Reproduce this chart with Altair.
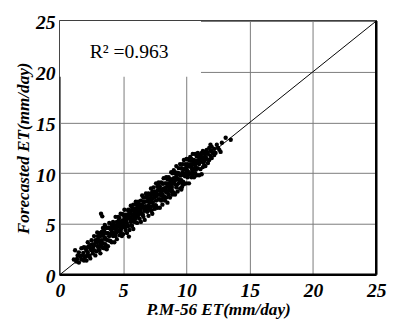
import altair as alt
import pandas as pd

# ---- data (P.M-56 ET vs forecasted ET, mm/day) ----
pm56_a = [1.1, 1.2, 1.3, 1.4, 1.5, 1.5, 1.6, 1.7, 1.7, 1.8,
          1.9, 1.9, 2.0, 2.0, 2.1, 2.1, 2.2, 2.2, 2.3, 2.3,
          2.4, 2.4, 2.5, 2.5, 2.6, 2.6, 2.7, 2.7, 2.8, 2.8,
          2.9, 2.9, 3.0, 3.0, 1.35, 1.85, 2.15, 2.45, 2.65, 2.95]
fc_a = [1.5, 2.4, 1.3, 1.9, 1.2, 2.2, 1.8, 1.5, 2.6, 1.9,
        1.4, 2.7, 1.8, 2.6, 2.4, 1.4, 2.2, 3.2, 1.9, 2.8,
        2.6, 1.6, 3.4, 2.4, 3.0, 2.1, 3.8, 2.4, 3.4, 1.9,
        3.2, 2.3, 3.8, 2.8, 1.55, 2.15, 1.85, 2.95, 2.75, 4.15]

pm56_b = [3.1, 3.1, 3.1, 3.2, 3.2, 3.2, 3.3, 3.3, 3.3, 3.4,
          3.4, 3.4, 3.5, 3.5, 3.5, 3.6, 3.6, 3.6, 3.7, 3.7,
          3.7, 3.8, 3.8, 3.8, 3.9, 3.9, 3.9, 4.0, 4.0, 4.0,
          4.1, 4.1, 4.1, 4.2, 4.2, 4.2, 4.3, 4.3, 4.3, 4.4,
          4.4, 4.4, 4.5, 4.5, 4.5, 4.6, 4.6, 4.6, 4.7, 4.7,
          4.7, 4.8, 4.8, 4.8, 4.9, 4.9, 4.9, 3.25, 3.35, 3.55]
fc_b = [2.4, 3.4, 4.1, 2.1, 3.8, 3.0, 4.2, 2.8, 3.4, 4.6,
        3.1, 3.9, 2.6, 3.7, 4.3, 3.0, 4.7, 3.6, 2.5, 4.1,
        4.6, 3.4, 4.1, 2.8, 4.6, 3.8, 5.1, 3.3, 4.5, 4.0,
        4.9, 3.2, 4.3, 3.8, 5.2, 4.6, 3.2, 4.9, 4.1, 5.7,
        3.8, 4.5, 5.2, 3.5, 4.8, 4.3, 5.7, 5.1, 3.9, 4.7,
        5.6, 4.3, 5.2, 6.0, 3.8, 5.1, 4.7, 6.0, 5.75, 4.9]

pm56_c = [5.0, 5.0, 5.0, 5.1, 5.1, 5.1, 5.2, 5.2, 5.2, 5.3,
          5.3, 5.3, 5.4, 5.4, 5.4, 5.5, 5.5, 5.5, 5.6, 5.6,
          5.6, 5.7, 5.7, 5.7, 5.8, 5.8, 5.8, 5.9, 5.9, 5.9,
          6.0, 6.0, 6.0, 6.1, 6.1, 6.1, 6.2, 6.2, 6.2, 6.3,
          6.3, 6.3, 6.4, 6.4, 6.4, 6.5, 6.5, 6.5, 6.6, 6.6,
          6.6, 6.7, 6.7, 6.7, 6.8, 6.8, 6.8, 6.9, 6.9, 5.45]
fc_c = [4.0, 5.2, 5.9, 5.6, 4.7, 6.4, 4.4, 5.3, 5.9, 4.1,
        5.7, 5.1, 6.4, 4.8, 5.7, 4.4, 6.3, 5.5, 5.2, 6.8,
        6.1, 4.8, 5.9, 6.6, 5.5, 6.9, 4.5, 6.5, 5.8, 5.2,
        6.3, 5.5, 7.2, 5.1, 6.8, 6.1, 5.9, 7.2, 6.6, 5.5,
        6.9, 6.2, 5.2, 7.3, 6.6, 5.9, 7.8, 6.9, 5.7, 6.7,
        7.6, 6.3, 7.2, 5.4, 7.6, 6.6, 8.0, 6.2, 7.2, 3.75]

pm56_d = [7.0, 7.0, 7.0, 7.1, 7.1, 7.1, 7.2, 7.2, 7.2, 7.3,
          7.3, 7.3, 7.4, 7.4, 7.4, 7.5, 7.5, 7.5, 7.6, 7.6,
          7.6, 7.7, 7.7, 7.7, 7.8, 7.8, 7.8, 7.9, 7.9, 7.9,
          8.0, 8.0, 8.0, 8.1, 8.1, 8.1, 8.2, 8.2, 8.2, 8.3,
          8.3, 8.3, 8.4, 8.4, 8.4, 8.5, 8.5, 8.5, 8.6, 8.6,
          8.6, 8.7, 8.7, 8.7, 8.8, 8.8, 8.8, 8.9, 8.9, 8.9]
fc_d = [5.8, 7.3, 8.0, 6.6, 7.9, 7.1, 8.5, 6.3, 7.6, 7.1,
        8.2, 6.0, 7.9, 6.8, 8.6, 7.6, 6.5, 8.2, 7.3, 9.0,
        6.8, 7.9, 8.7, 6.6, 8.4, 7.4, 9.1, 7.9, 6.6, 8.7,
        8.4, 7.3, 9.1, 7.9, 9.0, 6.9, 8.5, 9.5, 7.7, 9.0,
        7.3, 8.4, 9.6, 8.1, 9.0, 7.1, 9.4, 8.7, 7.9, 9.6,
        9.0, 7.6, 9.4, 8.5, 10.1, 8.2, 9.1, 7.9, 10.0, 9.4]

pm56_e = [9.0, 9.0, 9.0, 9.1, 9.1, 9.1, 9.2, 9.2, 9.2, 9.3,
          9.3, 9.3, 9.4, 9.4, 9.4, 9.5, 9.5, 9.5, 9.6, 9.6,
          9.6, 9.7, 9.7, 9.7, 9.8, 9.8, 9.8, 9.9, 9.9, 9.9,
          10.0, 10.0, 10.0, 10.1, 10.1, 10.1, 10.2, 10.2, 10.2, 10.3,
          10.3, 10.3, 10.4, 10.4, 10.4, 10.5, 10.5, 10.5, 10.6, 10.6,
          10.6, 10.7, 10.7, 10.7, 10.8, 10.8, 10.8, 10.9, 10.9, 10.9]
fc_e = [8.1, 9.5, 10.3, 8.9, 10.0, 7.9, 9.4, 10.7, 8.6, 10.0,
        8.2, 9.4, 10.5, 9.0, 10.0, 8.5, 10.9, 9.8, 9.3, 10.5,
        8.4, 10.1, 10.9, 9.0, 9.8, 11.3, 8.9, 10.5, 9.7, 10.9,
        10.3, 9.0, 11.4, 9.6, 10.9, 10.2, 9.0, 11.3, 10.7, 10.0,
        11.6, 10.9, 9.6, 10.6, 11.4, 10.1, 11.9, 10.9, 9.6, 11.3,
        10.4, 11.9, 10.7, 10.0, 11.7, 9.8, 11.2, 12.0, 10.5, 11.2]

pm56_f = [11.0, 11.0, 11.0, 11.1, 11.1, 11.1, 11.2, 11.2, 11.2, 11.3,
          11.3, 11.3, 11.4, 11.4, 11.4, 11.5, 11.5, 11.6, 11.6, 11.7,
          11.7, 11.8, 11.8, 11.9, 11.9, 12.0, 12.0, 12.1, 12.2, 12.3,
          12.4, 12.5, 12.7, 12.8, 13.1, 13.5, 11.5, 11.9, 12.2, 12.6]
fc_f = [9.8, 10.9, 11.6, 10.4, 11.8, 11.1, 9.9, 11.3, 12.0, 10.6,
        11.5, 12.2, 10.8, 11.9, 11.2, 10.7, 12.1, 11.4, 12.3, 11.0,
        11.9, 11.3, 12.5, 11.7, 12.2, 11.5, 12.6, 12.0, 12.4, 12.0,
        12.8, 12.5, 12.1, 13.0, 13.5, 13.3, 11.6, 12.8, 11.8, 12.3]

pm56_core = [1.65, 1.95, 2.25, 2.55, 2.85, 3.05, 3.15, 3.45, 3.65, 3.75,
             3.95, 4.05, 4.25, 4.35, 4.55, 4.65, 4.85, 4.95, 5.05, 5.15,
             5.25, 5.35, 5.45, 5.65, 5.75, 5.85, 5.95, 6.05, 6.15, 6.25,
             6.35, 6.45, 6.55, 6.65, 6.75, 6.85, 6.95, 7.05, 7.15, 7.25,
             7.35, 7.45, 7.55, 7.65, 7.75, 7.85, 7.95, 8.05, 8.15, 8.25,
             8.35, 8.45, 8.55, 8.65, 8.75, 8.85, 8.95, 9.05, 9.15, 9.25,
             9.35, 9.45, 9.55, 9.65, 9.75, 9.85, 9.95, 10.05, 10.15, 10.25,
             10.35, 10.45, 10.55, 10.65, 10.75, 10.85, 10.95, 11.05, 11.25, 11.45,
             3.55, 4.15, 4.75, 5.55, 6.4, 7.0, 7.6, 8.2, 8.8, 9.4,
             10.0, 10.6, 11.2, 5.9, 6.7, 7.3, 8.0, 8.6, 9.2, 9.8]
fc_core = [1.85, 1.65, 2.75, 2.45, 3.25, 2.55, 3.25, 4.05, 3.45, 4.05,
           3.35, 4.05, 4.75, 3.95, 4.75, 5.35, 4.55, 5.35, 4.95, 5.75,
           4.75, 5.55, 5.95, 5.45, 6.35, 5.25, 6.05, 6.45, 5.75, 6.95,
           6.25, 6.75, 5.95, 7.15, 6.75, 6.55, 7.55, 6.55, 7.35, 7.95,
           7.15, 7.85, 6.85, 7.75, 8.35, 7.45, 8.25, 7.95, 8.95, 7.65,
           8.55, 8.95, 8.25, 9.35, 8.75, 8.35, 9.35, 9.15, 10.05, 8.85,
           9.95, 9.25, 9.85, 10.45, 9.15, 10.35, 9.95, 10.75, 9.85, 10.65,
           11.25, 10.35, 11.05, 10.85, 10.35, 11.65, 11.25, 11.65, 11.35, 11.95,
           3.55, 4.05, 4.95, 5.65, 6.4, 6.8, 7.9, 8.3, 9.0, 9.4,
           10.4, 10.9, 11.6, 6.2, 6.6, 7.5, 7.8, 8.9, 9.7, 9.9]

pm56_core2 = [2.05, 2.35, 2.75, 3.35, 3.85, 4.45, 4.95, 5.25, 5.65, 6.05,
              6.45, 6.85, 7.25, 7.65, 8.05, 8.45, 8.85, 9.25, 9.65, 10.05,
              10.45, 10.85, 11.35, 11.65, 3.0, 3.6, 4.2, 4.8, 5.4, 6.0,
              6.6, 7.2, 7.8, 8.4, 9.0, 9.6, 10.2, 10.8, 11.4, 12.0]
fc_core2 = [2.65, 1.85, 2.95, 2.65, 4.65, 4.15, 5.95, 5.55, 4.85, 6.95,
            6.05, 7.85, 6.35, 8.15, 7.45, 9.55, 8.65, 10.05, 8.65, 10.65,
            9.85, 11.75, 11.05, 12.05, 3.5, 2.8, 4.9, 4.2, 6.3, 5.8,
            7.2, 6.7, 8.8, 7.6, 9.3, 9.1, 11.4, 11.0, 12.1, 12.2]

axis_ticks = [0, 5, 10, 15, 20, 25]
diag_x = [0, 25]
diag_y = [0, 25]
r2_text = "R² =0.963"
r2_pos = [2.35, 21.9]
box_x = [0, 11.15]
box_y = [19.5, 25]

xs = pm56_a + pm56_b + pm56_c + pm56_d + pm56_e + pm56_f + pm56_core + pm56_core2
ys = fc_a + fc_b + fc_c + fc_d + fc_e + fc_f + fc_core + fc_core2
assert len(xs) == len(ys)
pts = pd.DataFrame({"x": xs, "y": ys})

FONT = "Liberation Serif"
xscale = alt.Scale(domain=[0, 25], nice=False, zero=False)
yscale = alt.Scale(domain=[0, 25], nice=False, zero=False)

xaxis = alt.Axis(title="P.M-56 ET(mm/day)", values=axis_ticks, labelPadding=6, titlePadding=1,
                 labelFontWeight="bold", labelFontStyle="italic")
yaxis = alt.Axis(title="Forecasted ET(mm/day)", values=axis_ticks, labelPadding=5,
                 titlePadding=3, labelOffset=2,
                 labelFontWeight="bold", labelFontStyle="italic")

base_x = alt.X("x:Q", scale=xscale, axis=xaxis)
base_y = alt.Y("y:Q", scale=yscale, axis=yaxis)

box = alt.Chart(pd.DataFrame({"x": [box_x[0]], "x2": [box_x[1]],
                              "y": [box_y[0]], "y2": [box_y[1]]})).mark_rect(
    color="white").encode(x=base_x, x2="x2:Q", y=base_y, y2="y2:Q")

diag = alt.Chart(pd.DataFrame({"x": diag_x, "y": diag_y})).mark_line(
    color="black", strokeWidth=1).encode(x=base_x, y=base_y)

points = alt.Chart(pts).mark_circle(color="black", size=20, opacity=1).encode(
    x=base_x, y=base_y)

label = alt.Chart(pd.DataFrame({"x": [r2_pos[0]], "y": [r2_pos[1]], "t": [r2_text]})).mark_text(
    align="left", baseline="middle", font=FONT, fontSize=20, color="black").encode(
    x=base_x, y=base_y, text="t:N")

bottom = alt.Chart(pd.DataFrame({"x": [0], "x2": [25], "y": [0]})).mark_rule(
    color="black", strokeWidth=2.5).encode(x=base_x, x2="x2:Q", y=base_y)
right = alt.Chart(pd.DataFrame({"x": [25], "y": [0], "y2": [25]})).mark_rule(
    color="black", strokeWidth=2.5).encode(x=base_x, y=base_y, y2="y2:Q")

chart = alt.layer(box, diag, points, label, bottom, right).properties(
    width=323, height=259,
    autosize=alt.AutoSizeParams(type="none"),
    padding={"left": 53, "top": 10, "right": 11, "bottom": 43},
).configure_view(stroke="black", strokeWidth=1.5).configure_axis(
    grid=True, ticks=False, domain=False,
    gridColor="#7a7a7a", gridWidth=1,
    labelFont=FONT, labelFontSize=20, labelFontWeight="bold",
    labelFontStyle="italic", labelColor="black",
    titleFont=FONT, titleFontSize=17.5, titleFontWeight="bold",
    titleFontStyle="italic", titleColor="black", labelFlush=False,
)

chart.save("out.html", embed_options={"renderer": "svg", "actions": False})
